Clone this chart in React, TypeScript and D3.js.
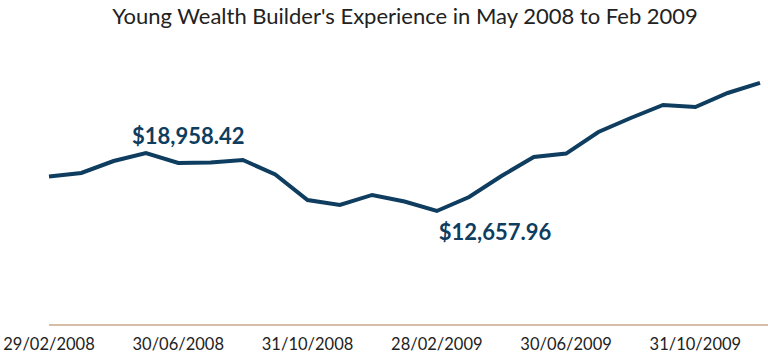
import React from "react";
import * as d3 from "d3";

const title = "Young Wealth Builder's Experience in May 2008 to Feb 2009";
const dates = [
  "29/02/2008", "31/03/2008", "30/04/2008", "31/05/2008", "30/06/2008", "31/07/2008",
  "31/08/2008", "30/09/2008", "31/10/2008", "30/11/2008", "31/12/2008", "31/01/2009",
  "28/02/2009", "31/03/2009", "30/04/2009", "31/05/2009", "30/06/2009", "31/07/2009",
  "31/08/2009", "30/09/2009", "31/10/2009", "30/11/2009", "31/12/2009",
];
const values = [
  16410, 16790, 18090, 18958.42, 17870, 17920, 18200, 16620, 13850, 13310, 14400, 13690,
  12657.96, 14180, 16460, 18530, 18900, 21240, 22760, 24180, 23960, 25480, 26570,
];
const tickLabels = ["29/02/2008", "30/06/2008", "31/10/2008", "28/02/2009", "30/06/2009", "31/10/2009"];
const annotated = [
  { date: "31/05/2008", text: "$18,958.42", dx: -14, dy: -9 },
  { date: "28/02/2009", text: "$12,657.96", dx: 2, dy: 29 },
];

const W = 768;
const H = 356;
const navy = "#0e3d5f";

export default function App() {
  const x = d3.scalePoint<string>().domain(dates).range([49, 760]);
  const y = d3.scaleLinear().domain([0, 30000]).range([327.5, 327.5 - 30000 / 108.65]);
  const line = d3
    .line<number>()
    .x((_, i) => x(dates[i]) as number)
    .y((d) => y(d));
  const font = "Lato, 'Open Sans', sans-serif";
  return (
    <svg
      width={W}
      height={H}
      style={{ position: "absolute", left: 0, top: 0, background: "#fff" }}
      fontFamily={font}
    >
      <text x={405} y={24} textAnchor="middle" fontSize={22} fill="#222">
        {title}
      </text>
      <line x1={49} x2={768} y1={325} y2={325} stroke="#c9a98a" strokeWidth={1.5} />
      {tickLabels.map((t) => (
        <text key={t} x={x(t) as number} y={350} textAnchor="middle" fontSize={16.5} fill="#222">
          {t}
        </text>
      ))}
      <path d={line(values) || ""} fill="none" stroke={navy} strokeWidth={4} strokeLinejoin="miter" />
      {annotated.map((a) => {
        const i = dates.indexOf(a.date);
        return (
          <text
            key={a.text}
            x={(x(a.date) as number) + a.dx}
            y={y(values[i]) + a.dy}
            fontSize={22}
            fontWeight={700}
            fill={navy}
          >
            {a.text}
          </text>
        );
      })}
    </svg>
  );
}
